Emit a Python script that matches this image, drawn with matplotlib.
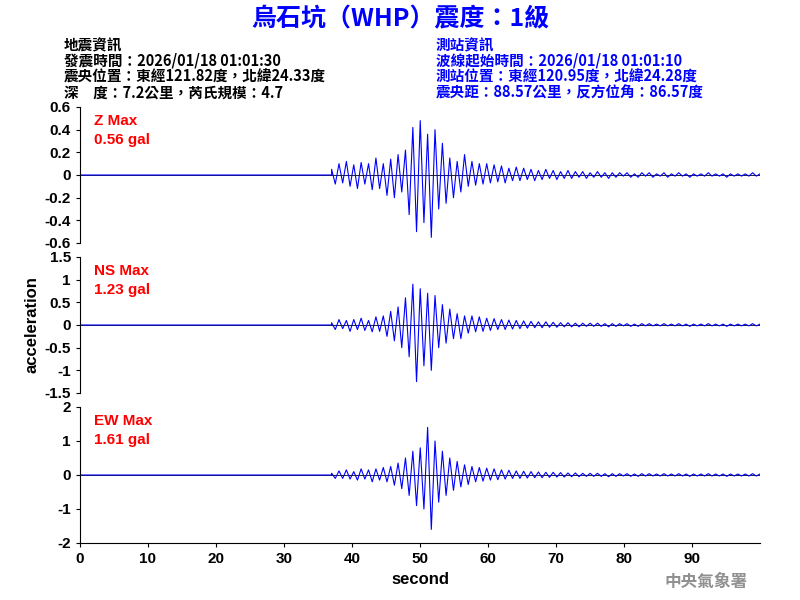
import numpy as np
import matplotlib.pyplot as plt

plt.rcParams['font.family'] = ['Liberation Sans', 'Noto Sans CJK TC', 'DejaVu Sans']

# trace amplitudes (gal), every 0.5 s from 37 s to 100 s
z_vals = [0.05, -0.08, 0.1, -0.07, 0.12, -0.1, 0.09, -0.12, 0.11, -0.08, 0.1,
          -0.13, 0.15, -0.12, 0.1, -0.18, 0.14, -0.2, 0.18, -0.15, 0.22,
          -0.35, 0.42, -0.5, 0.48, -0.42, 0.36, -0.55, 0.4, -0.3, 0.28,
          -0.25, 0.15, -0.2, 0.12, -0.15, 0.18, -0.1, 0.12, -0.09, 0.1,
          -0.08, 0.1, -0.07, 0.09, -0.06, 0.08, -0.07, 0.06, -0.05, 0.07,
          -0.05, 0.06, -0.04, 0.05, -0.05, 0.04, -0.04, 0.05, -0.03, 0.04,
          -0.04, 0.03, -0.03, 0.04, -0.03, 0.03, -0.02, 0.03, -0.03, 0.02,
          -0.02, 0.03, -0.02, 0.02, -0.03, 0.02, -0.02, 0.02, -0.01, 0.02,
          -0.02, 0.01, -0.02, 0.02, -0.01, 0.02, -0.02, 0.01, -0.01, 0.02,
          -0.02, 0.01, -0.01, 0.02, -0.01, 0.01, -0.02, 0.01, -0.01, 0.01,
          -0.01, 0.02, -0.01, 0.01, -0.01, 0.01, -0.02, 0.01, -0.01, 0.01,
          -0.01, 0.01, -0.01, 0.02, -0.01, 0.01]
ns_vals = [0.05, -0.1, 0.12, -0.08, 0.1, -0.14, 0.12, -0.1, 0.15, -0.12, 0.1,
           -0.15, 0.18, -0.14, 0.2, -0.25, 0.3, -0.35, 0.4, -0.5, 0.6,
           -0.7, 0.9, -1.25, 0.8, -0.9, 0.7, -1.0, 0.65, -0.5, 0.45,
           -0.4, 0.35, -0.3, 0.25, -0.3, 0.2, -0.18, 0.2, -0.15, 0.18,
           -0.14, 0.15, -0.12, 0.14, -0.1, 0.12, -0.1, 0.11, -0.09, 0.1,
           -0.08, 0.09, -0.07, 0.08, -0.06, 0.07, -0.06, 0.07, -0.05, 0.06,
           -0.05, 0.05, -0.04, 0.05, -0.04, 0.04, -0.04, 0.04, -0.03, 0.04,
           -0.03, 0.04, -0.03, 0.03, -0.04, 0.03, -0.03, 0.03, -0.02, 0.03,
           -0.03, 0.02, -0.03, 0.03, -0.02, 0.03, -0.02, 0.02, -0.02, 0.03,
           -0.02, 0.02, -0.02, 0.03, -0.02, 0.02, -0.03, 0.02, -0.02, 0.02,
           -0.02, 0.03, -0.02, 0.02, -0.02, 0.02, -0.03, 0.02, -0.02, 0.02,
           -0.02, 0.02, -0.02, 0.03, -0.02, 0.02]
ew_vals = [0.05, -0.1, 0.12, -0.1, 0.15, -0.12, 0.1, -0.15, 0.18, -0.12, 0.15,
           -0.2, 0.18, -0.15, 0.22, -0.2, 0.25, -0.3, 0.35, -0.4, 0.5,
           -0.6, 0.7, -0.9, 0.8, -1.0, 1.4, -1.6, 1.0, -0.8, 0.7,
           -0.6, 0.5, -0.45, 0.4, -0.35, 0.3, -0.28, 0.25, -0.2, 0.22,
           -0.18, 0.2, -0.15, 0.18, -0.14, 0.15, -0.12, 0.14, -0.1, 0.12,
           -0.1, 0.11, -0.09, 0.1, -0.08, 0.09, -0.08, 0.08, -0.07, 0.08,
           -0.06, 0.07, -0.06, 0.06, -0.05, 0.06, -0.05, 0.05, -0.04, 0.05,
           -0.04, 0.05, -0.04, 0.04, -0.05, 0.04, -0.04, 0.04, -0.03, 0.04,
           -0.04, 0.03, -0.04, 0.04, -0.03, 0.04, -0.03, 0.03, -0.03, 0.04,
           -0.03, 0.03, -0.03, 0.04, -0.03, 0.03, -0.04, 0.03, -0.03, 0.03,
           -0.03, 0.04, -0.03, 0.03, -0.03, 0.03, -0.04, 0.03, -0.03, 0.03,
           -0.03, 0.03, -0.03, 0.04, -0.03, 0.03]
onset = 37.0
t_end = 100.0

labels = ['Z Max\n0.56 gal', 'NS Max\n1.23 gal', 'EW Max\n1.61 gal']
ylims = [0.6, 1.5, 2.0]
yticks = [[-0.6, -0.4, -0.2, 0, 0.2, 0.4, 0.6],
          [-1.5, -1, -0.5, 0, 0.5, 1, 1.5],
          [-2, -1, 0, 1, 2]]
traces = [z_vals, ns_vals, ew_vals]

cjk = ['Noto Sans CJK TC', 'DejaVu Sans']
fig = plt.figure(figsize=(8, 6), dpi=100)
blue = '#0000ff'
fig.text(0.5, 0.968, '烏石坑（WHP）震度：1級', color=blue, fontsize=18,
         fontweight='bold', ha='center', va='center', family=cjk)
left_info = ['地震資訊', '發震時間：2026/01/18 01:01:30',
             '震央位置：東經121.82度，北緯24.33度', '深　度：7.2公里，芮氏規模：4.7']
right_info = ['測站資訊', '波線起始時間：2026/01/18 01:01:10',
              '測站位置：東經120.95度，北緯24.28度', '震央距：88.57公里，反方位角：86.57度']
for i, (a, b) in enumerate(zip(left_info, right_info)):
    y = 0.925 - i * 0.0262
    fig.text(0.08, y, a, fontsize=10.5, va='center', color='black',
             fontweight='bold', family=cjk)
    fig.text(0.545, y, b, fontsize=10.5, va='center', color=blue,
             fontweight='bold', family=cjk)

tops = [107, 257, 407]
for k in range(3):
    ax = fig.add_axes([0.1, 1 - (tops[k] + 136) / 600, 0.85, 136 / 600])
    vals = traces[k]
    t = np.concatenate([[0, onset], np.linspace(onset, t_end, len(vals))])
    y = np.concatenate([[0, 0], vals])
    ax.plot(t, y, color=blue, lw=0.8)
    ax.axhline(0, color='black', lw=0.6, zorder=0)
    ax.set_xlim(0, 100)
    ax.set_ylim(-ylims[k], ylims[k])
    ax.set_yticks(yticks[k])
    ax.set_yticklabels([f'{v:g}' for v in yticks[k]], fontweight='bold')
    ax.tick_params(labelsize=11, length=3)
    for s in ['top', 'right']:
        ax.spines[s].set_visible(False)
    ax.text(0.02, 0.95, labels[k], transform=ax.transAxes, color='red',
            fontsize=11, fontweight='bold', va='top', linespacing=1.5)
    if k < 2:
        ax.spines['bottom'].set_visible(False)
        ax.set_xticks([])
    else:
        ax.set_xticks(range(0, 100, 10))
        ax.set_xticklabels([str(v) for v in range(0, 100, 10)], fontweight='bold')
        ax.set_xlabel('second', fontsize=12, fontweight='bold')
    if k == 1:
        ax.set_ylabel('acceleration', fontsize=12, fontweight='bold')

fig.text(0.935, 0.03, '中央氣象署', color='#909090', fontsize=12, ha='right',
         va='center', fontweight='bold', family=cjk)
fig.savefig('out.png', dpi=100)
